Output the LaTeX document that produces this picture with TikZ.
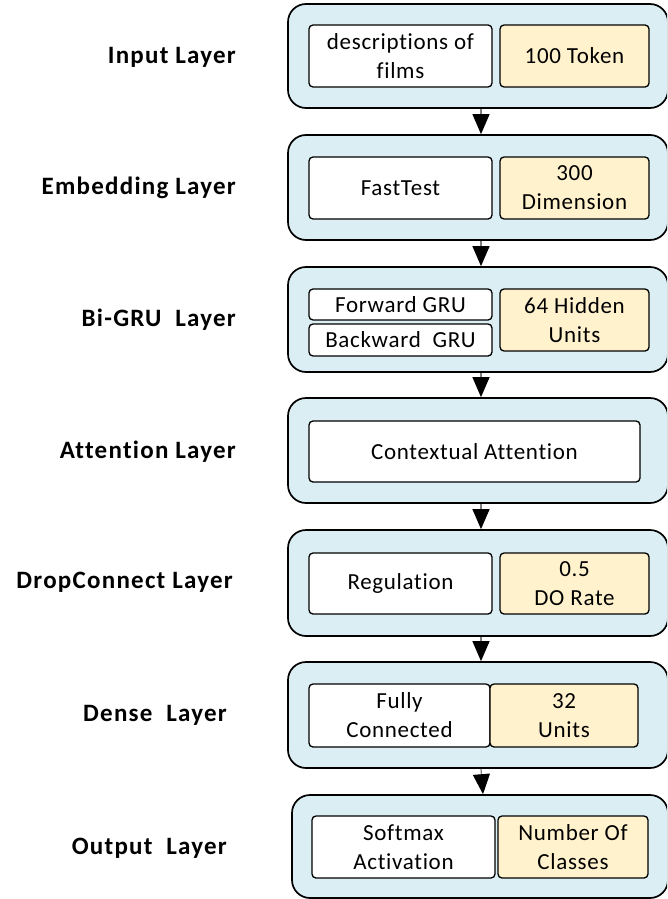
\documentclass[tikz,border=0pt]{standalone}
\usepackage{fontspec}
\setmainfont{Carlito}
\newfontfamily\labfont[LetterSpace=5,Ligatures=NoCommon]{Carlito}
\newfontfamily\boxfont[LetterSpace=3,Ligatures=NoCommon]{Carlito}
\usetikzlibrary{arrows.meta}
\definecolor{layerblue}{HTML}{DAEEF3}
\definecolor{yel}{HTML}{FFF2CC}
\definecolor{arrgray}{HTML}{7F7F7F}
\tikzset{
  outer/.style={draw=black, line width=1.7pt, rounded corners=18pt, fill=layerblue, inner sep=0pt},
  wbox/.style={draw=black, line width=1.3pt, rounded corners=4pt, fill=white, align=center, inner sep=0pt, font=\boxfont\fontsize{23}{29}\selectfont},
  ybox/.style={wbox, fill=yel},
  lab/.style={anchor=east, font=\labfont\fontsize{25}{30}\selectfont\bfseries, inner sep=0pt},
  conn/.style={draw=arrgray, line width=1.2pt, -{Triangle[length=20pt,width=17pt,fill=black,color=black]}, shorten >=0pt}
}
\begin{document}
\begin{tikzpicture}[x=1pt,y=-1pt]
\clip (0,0) rectangle (667,899);
\fill[white] (0,0) rectangle (667,899);
% outer layer boxes
\node[outer, minimum width=380pt, minimum height=104pt] (L1) at (478,56) {};
\node[outer, minimum width=380pt, minimum height=105pt] (L2) at (478,187.5) {};
\node[outer, minimum width=380pt, minimum height=105pt] (L3) at (478,319.5) {};
\node[outer, minimum width=380pt, minimum height=105pt] (L4) at (478,450.5) {};
\node[outer, minimum width=380pt, minimum height=106pt] (L5) at (478,583) {};
\node[outer, minimum width=380pt, minimum height=106pt] (L6) at (478,715) {};
\node[outer, minimum width=376pt, minimum height=103pt] (L7) at (480,846.5) {};
% labels
\node[lab] (t1) at (236,57) {Input Layer};
\node[lab] (t2) at (236,188) {Embedding Layer};
\node[lab] (t3) at (236,320) {Bi-GRU\ \ Layer};
\node[lab] (t4) at (236,452) {Attention Layer};
\node[lab] (t5) at (233,582) {DropConnect Layer};
\node[lab] (t6) at (227,715) {Dense\ \ Layer};
\node[lab] (t7) at (227,848) {Output\ \ Layer};
% inner boxes
\node[wbox, minimum width=183pt, minimum height=62pt] (a1) at (400.5,56) {descriptions of\\films};
\node[ybox, minimum width=149pt, minimum height=62pt] (b1) at (574.5,56) {100 Token};
\node[wbox, minimum width=183pt, minimum height=62pt] (a2) at (400.5,188) {FastTest};
\node[ybox, minimum width=149pt, minimum height=62pt] (b2) at (574.5,188) {300\\Dimension};
\node[wbox, minimum width=183pt, minimum height=31pt] (a3) at (400.5,304.5) {Forward GRU};
\node[wbox, minimum width=183pt, minimum height=32pt] (c3) at (400.5,340) {Backward\ \ GRU};
\node[ybox, minimum width=149pt, minimum height=62pt] (b3) at (574.5,320) {64 Hidden\\Units};
\node[wbox, minimum width=331pt, minimum height=61pt] (a4) at (474.5,451.5) {Contextual Attention};
\node[wbox, minimum width=183pt, minimum height=61pt] (a5) at (400.5,583.5) {Regulation};
\node[ybox, minimum width=149pt, minimum height=61pt] (b5) at (574.5,583.5) {0.5\\DO Rate};
\node[wbox, minimum width=181pt, minimum height=63pt] (a6) at (399.5,715.5) {Fully\\Connected};
\node[ybox, minimum width=148pt, minimum height=63pt] (b6) at (564,715.5) {32\\Units};
\node[wbox, minimum width=183pt, minimum height=62pt] (a7) at (403.5,847) {Softmax\\Activation};
\node[ybox, minimum width=150pt, minimum height=62pt] (b7) at (573,847) {Number Of\\Classes};
% connectors
\draw[conn] (L1.south -| 481,0) -- (L2.north -| 481,0);
\draw[conn] (L2.south -| 481,0) -- (L3.north -| 481,0);
\draw[conn] (L3.south -| 481,0) -- (L4.north -| 481,0);
\draw[conn] (L4.south -| 481,0) -- (L5.north -| 481,0);
\draw[conn] (L5.south -| 481,0) -- (L6.north -| 481,0);
\draw[conn] (L6.south -| 481,0) -- (L7.north -| 483,0);
\end{tikzpicture}
\end{document}
